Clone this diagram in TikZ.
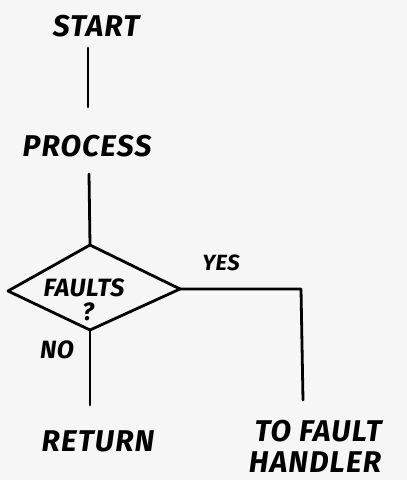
\documentclass[tikz,border=0pt]{standalone}
\usepackage{fontspec}
\setmainfont{Fira Sans}
\usetikzlibrary{calc}
\begin{document}
\begin{tikzpicture}[x=1pt,y=-1pt,
  ln/.style={line width=2.8pt,line cap=round,line join=round,black},
  lbl/.style={inner sep=0pt,font=\fontsize{30}{32}\selectfont\addfontfeatures{LetterSpace=4}\bfseries\itshape},
  mid/.style={inner sep=0pt,font=\fontsize{25}{26}\selectfont\addfontfeatures{LetterSpace=2}\bfseries\itshape},
  small/.style={inner sep=0pt,font=\fontsize{22}{23}\selectfont\addfontfeatures{LetterSpace=2}\bfseries\itshape}]
\fill[gray!7] (0,0) rectangle (407,480);
\useasboundingbox (0,0) rectangle (407,480);
\node[lbl] (start) at (96,26) {START};
\coordinate (s1) at (88,48);
\coordinate (s2) at (88,107);
\node[lbl] (process) at (87,146) {PROCESS};
\coordinate (p1) at (89,174);
\coordinate (dt) at (90,245);
\coordinate (dl) at (8,291);
\coordinate (dr) at (180,289);
\coordinate (db) at (90,330);
\node[mid] (faults) at (84,288) {FAULTS};
\node[mid] (q) at (88,312) {?};
\node[small] (yes) at (221,263) {YES};
\node[mid] (no) at (57,350) {NO};
\coordinate (y1) at (301,289);
\coordinate (y2) at (303,400);
\coordinate (n2) at (90,405);
\node[lbl] (return) at (98,441) {RETURN};
\node[lbl] (to) at (318,431) {TO FAULT};
\node[lbl] (handler) at (315,462) {HANDLER};
\draw[ln] (s1) -- (s2);
\draw[ln] (p1) -- (dt);
\draw[ln] (dt) -- (dr) -- (db) -- (dl) -- cycle;
\draw[ln] (dr) -- (y1) -- (y2);
\draw[ln] (db) -- (n2);
\end{tikzpicture}
\end{document}
